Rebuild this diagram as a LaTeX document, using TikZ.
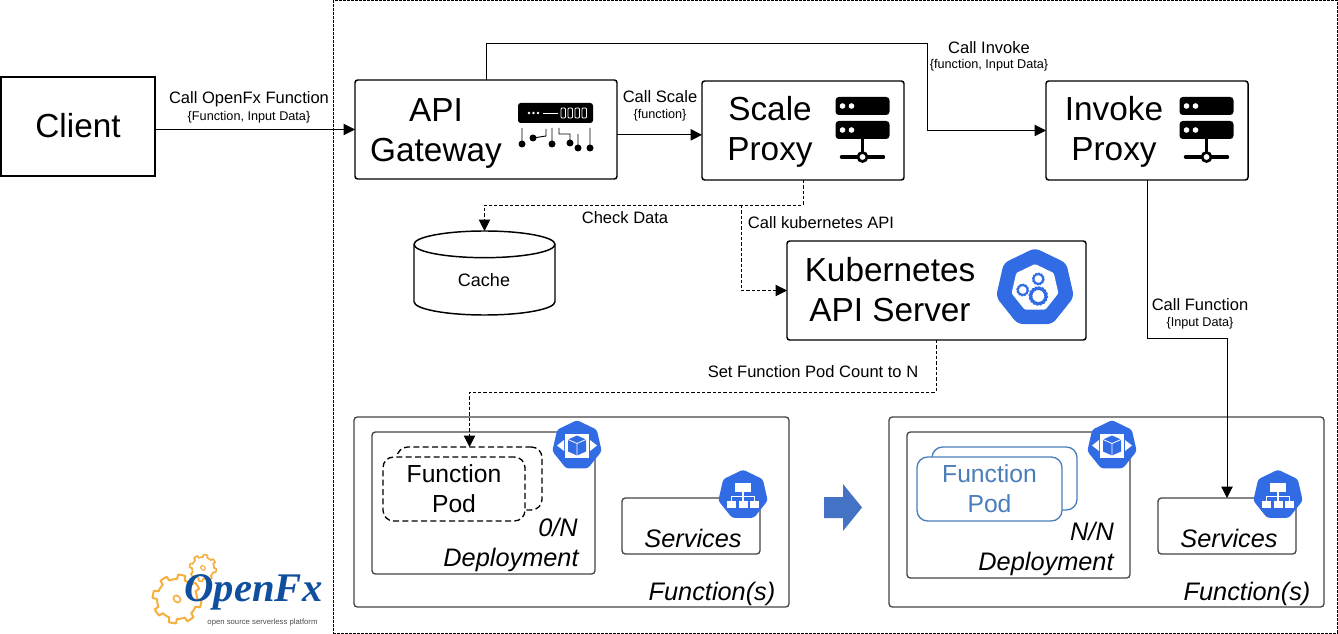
\documentclass[tikz,border=0pt]{standalone}
\usepackage{fontspec}
\setmainfont{Liberation Sans}
\newfontfamily\logofont{Liberation Serif}
\usetikzlibrary{arrows.meta,shapes.geometric}
\definecolor{k8sblue}{HTML}{326CE5}
\definecolor{podblue}{HTML}{4A7EBB}
\definecolor{blockblue}{HTML}{4472C4}
\definecolor{gearorange}{HTML}{F6AE3C}
\definecolor{logoblue}{HTML}{0F4F9E}
\definecolor{framegray}{HTML}{444444}

\tikzset{
    size/.style 2 args={minimum width=#1*0.75pt, minimum height=#2*0.75pt, inner sep=0pt, outer sep=0pt},
    pics/servericon/.style={code={
        \fill[black, rounded corners=2.5pt] (-27,-30) rectangle (27,-12);
        \fill[black, rounded corners=2.5pt] (-27,-6) rectangle (27,12);
        \foreach \y in {-21,3} {
            \fill[white] (-20,\y) circle (2.8);
            \fill[white] (-11,\y) circle (2.8);
        }
        \draw[line width=2.6pt] (0,12) -- (0,30);
        \draw[line width=2.6pt, line cap=round] (-21,30) -- (21,30);
        \draw[line width=2pt, fill=white] (0,30) circle (4.5);
    }},
    pics/gearwheel/.style n args={3}{code={
        \draw[#3, line join=round] plot[samples=145, domain=0:360, variable=\t]
            ({#1*(1+0.22*(sin(#2*\t)>0))*cos(\t)}, {#1*(1+0.22*(sin(#2*\t)>0))*sin(\t)}) -- cycle;
    }},
    pics/deployglyph/.style={code={
        \fill[white] (-12,-12) rectangle (12,12);
        \fill[k8sblue] (0,-10) -- (9,-6) -- (9,6) -- (0,10) -- (-9,6) -- (-9,-6) -- cycle;
        \draw[white, line width=0.6pt] (-9,-6) -- (0,-2) -- (9,-6) (0,-2) -- (0,10);
        \fill[white] (-20,0) -- (-13,-5.5) -- (-13,5.5) -- cycle;
        \fill[white] (20,0) -- (13,-5.5) -- (13,5.5) -- cycle;
    }},
    pics/serviceglyph/.style={code={
        \fill[white] (-8,-12) rectangle (8,-3);
        \fill[white] (-16,6) rectangle (-7,13);
        \fill[white] (-4.5,6) rectangle (4.5,13);
        \fill[white] (7,6) rectangle (16,13);
        \draw[white, line width=0.9pt] (0,-3) -- (0,6) (-11.5,6) -- (-11.5,1.5) -- (11.5,1.5) -- (11.5,6);
    }}
}

\begin{document}
\begin{tikzpicture}[
        x=0.75pt, y=-0.75pt,
        every node/.style={align=center},
        arrow/.style={->, line width=0.7pt, >={Triangle[length=8.5pt,width=8.5pt]}},
        dasharrow/.style={arrow, dash pattern=on 2.5pt off 1.5pt},
        box/.style={rectangle, draw=black, line width=1.1pt, rounded corners=2pt},
        group/.style={rectangle, draw=framegray, line width=1pt, rounded corners=2.5pt},
        bigtext/.style={font=\fontsize{25}{30}\selectfont},
        midtext/.style={font=\fontsize{18.5}{22.5}\selectfont},
        itext/.style={font=\fontsize{19}{22}\selectfont\itshape},
        call/.style={font=\fontsize{12.4}{14.5}\selectfont},
        subcall/.style={font=\fontsize{9.5}{11}\selectfont},
        pod/.style={rectangle, line width=1pt, rounded corners=8pt},
        kube/.style={regular polygon, regular polygon sides=7, fill=k8sblue, inner sep=0pt, rounded corners=2pt}
    ]
        \useasboundingbox (0,0) rectangle (1338,634);

        % Outer frame
        \node[size={1004}{632.5}, rectangle, draw=black, line width=0.5pt, dash pattern=on 2pt off 1pt] (system) at (835.2,316.7) {};

        % Top row
        \node[size={154}{99}, rectangle, draw=black, line width=1pt] (client) at (78,126.5) {};
        \node[bigtext] (clienttxt) at (78,126) {Client};
        \node[box, size={262}{99}] (api) at (486,129.5) {};
        \node[bigtext] (apitxt) at (436,133) {API\\Gateway};
        \node[box, size={202}{99}] (scale) at (803,130.5) {};
        \node[bigtext] (scaletxt) at (770,131.5) {Scale\\Proxy};
        \node[box, size={202}{99}] (invoke) at (1147,130.5) {};
        \node[bigtext] (invoketxt) at (1114,131.5) {Invoke\\Proxy};

        % Middle row
        \node[size={141}{84}, rectangle] (cache) at (484.5,273) {};
        \draw[line width=1.1pt, fill=white] ([yshift=-10pt]cache.north west) arc[start angle=180, end angle=0, x radius=52.875pt, y radius=10pt]
            -- ([yshift=10pt]cache.south east) arc[start angle=0, end angle=-180, x radius=52.875pt, y radius=10pt] -- cycle;
        \draw[line width=1.1pt] ([yshift=-10pt]cache.north west) arc[start angle=180, end angle=360, x radius=52.875pt, y radius=10pt];
        \node[font=\fontsize{13.5}{16}\selectfont] (cachetxt) at (484,280) {Cache};
        \node[box, size={299}{99}] (kubeapi) at (936.5,290.5) {};
        \node[bigtext] (kubetxt) at (890,290) {Kubernetes\\API Server};

        % Function groups
        \node[group, size={435}{190}] (funcl) at (571.5,512) {};
        \node[group, size={435}{190}] (funcr) at (1106.5,512) {};
        \node[group, size={223}{142}] (depl) at (483.5,503) {};
        \node[group, size={223}{146}] (depr) at (1018.5,505) {};
        \node[group, size={138}{56}] (svcl) at (691,526) {};
        \node[group, size={138}{56}] (svcr) at (1227,526) {};

        % Function pods
        \node[pod, draw=black, dash pattern=on 4.5pt off 2.5pt, size={145}{63}] (podlback) at (469.5,478.5) {};
        \node[pod, draw=black, dash pattern=on 4.5pt off 2.5pt, size={142}{64}, fill=white] (podl) at (454,489) {};
        \node[midtext] (podltxt) at (454,489) {Function\\Pod};
        \node[pod, draw=podblue, size={145}{63}, fill=white] (podrback) at (1004.5,478.5) {};
        \node[pod, draw=podblue, size={145}{64}, fill=white] (podr) at (989.5,489) {};
        \node[midtext, text=podblue] (podrtxt) at (989.5,489) {Function\\Pod};

        % Group labels
        \node[itext] (ratiol) at (558,527) {0/N};
        \node[itext] (deplabl) at (511,559.5) {Deployment};
        \node[itext] (ratior) at (1092,531) {N/N};
        \node[itext] (deplabr) at (1046,563.5) {Deployment};
        \node[itext] (svclabl) at (693,538) {Services};
        \node[itext] (svclabr) at (1229,538) {Services};
        \node[itext] (funclabl) at (712,594) {Function(s)};
        \node[itext] (funclabr) at (1247,594) {Function(s)};

        % Icons
        \node[kube, minimum size=38pt] (depicl) at (577,445.5) {};
        \node[kube, minimum size=38pt] (depicr) at (1112,445.5) {};
        \node[kube, minimum size=38pt] (svcicl) at (743,495) {};
        \node[kube, minimum size=38pt] (svcicr) at (1278,495) {};
        \pic at (depicl) {deployglyph};
        \pic at (depicr) {deployglyph};
        \pic at (svcicl) {serviceglyph};
        \pic at (svcicr) {serviceglyph};
        \pic at (862.5,127) {servericon};
        \pic at (1206.5,127) {servericon};

        \node[kube, minimum size=60pt, rounded corners=4pt] (kubeicon) at (1035,288) {};
        \node[regular polygon, regular polygon sides=7, fill=white, inner sep=0pt, minimum size=36pt, rounded corners=1pt] (kubehole) at (1035,288) {};
        \pic at (1038.3,296) {gearwheel={7}{16}{k8sblue, line width=1.8pt, fill=white}};
        \pic at (1022.7,290) {gearwheel={4.5}{12}{k8sblue, line width=1.3pt, fill=white}};
        \pic at (1038.3,279) {gearwheel={4.5}{12}{k8sblue, line width=1.3pt, fill=white}};

        % Gateway icon
        \fill[black, rounded corners=2pt] (518,103) rectangle (593,123);
        \foreach \x in {529,533.5,538} \fill[white] (\x,113) circle (1.3);
        \draw[white, line width=0.7pt] (543,113) -- (558,113);
        \foreach \x in {561,568,575,582} \draw[white, line width=0.7pt, rounded corners=0.8pt] (\x,108) rectangle (\x+4.5,118);
        \draw[line width=0.7pt] (522,128) -- (522,144) (533,138) -- (546,136) -- (546,129) (552,128) -- (552,144) (559,128) -- (559,134) -- (570,134) -- (570,143) (578,134) -- (578,148) (590,128) -- (590,148);
        \foreach \x/\y in {522/144,533/138,552/144,570/143,578/148,590/148} \fill[black] (\x,\y) circle (3.5);

        % Block arrow between the groups
        \fill[blockblue] (824,497) -- (843,497) -- (843,484) -- (862,507.5) -- (843,531) -- (843,518) -- (824,518) -- cycle;

        % Logo
        \pic at (177,599) {gearwheel={20}{8}{gearorange, line width=1.5pt, fill=white}};
        \pic at (177,599) {gearwheel={3}{2}{gearorange, line width=1.2pt}};
        \pic at (203,568) {gearwheel={11}{8}{gearorange, line width=1.2pt, fill=white}};
        \pic at (203,568) {gearwheel={2}{2}{gearorange, line width=0.8pt}};
        \node[font=\fontsize{30.5}{32}\logofont\bfseries\itshape, text=logoblue] (logotxt) at (253.5,592) {OpenFx};
        \node[font=\fontsize{5.8}{7}\selectfont, text=black!70] (logosub) at (262.5,622) {open source serverless platform};

        % Connector bends
        \coordinate (invbend) at (927,43);
        \coordinate (checkbend) at (803,205);
        \coordinate (kubebend) at (741,205);
        \coordinate (setbend) at (936,392);
        \coordinate (funcbend) at (1147,338);

        % Solid arrows
        \draw[arrow] (client.east |- api.west) -- (api.west);
        \draw[arrow] ([yshift=-4pt]api.east) -- ([yshift=-4pt]api.east -| scale.west);
        \draw[arrow] (api.north) |- (invbend) |- (invoke.west);
        \draw[arrow] (invoke.south) -- (funcbend) -| (svcr.north);

        % Dashed arrows
        \draw[dasharrow] (scale.south) -- (checkbend) -| (cache.north);
        \draw[dasharrow] (kubebend) |- (kubeapi.west);
        \draw[dasharrow] (setbend |- kubeapi.south) -- (setbend) -| (podlback.north);

        % Call labels
        \node[call] (callfx) at (249,99) {Call OpenFx Function};
        \node[subcall] (callfxsub) at (249,117) {\{Function, Input Data\}};
        \node[call] (callscale) at (660,97) {Call Scale};
        \node[subcall] (callscalesub) at (660,115) {\{function\}};
        \node[call] (callinv) at (989,48) {Call Invoke};
        \node[subcall] (callinvsub) at (989,65) {\{function, Input Data\}};
        \node[call] (callfunc) at (1200,305) {Call Function};
        \node[subcall] (callfuncsub) at (1200,323) {\{Input Data\}};
        \node[call] (check) at (625,218) {Check Data};
        \node[call] (callkube) at (821,223) {Call kubernetes API};
        \node[call] (setpod) at (813,372) {Set Function Pod Count to N};
    \end{tikzpicture}
\end{document}
